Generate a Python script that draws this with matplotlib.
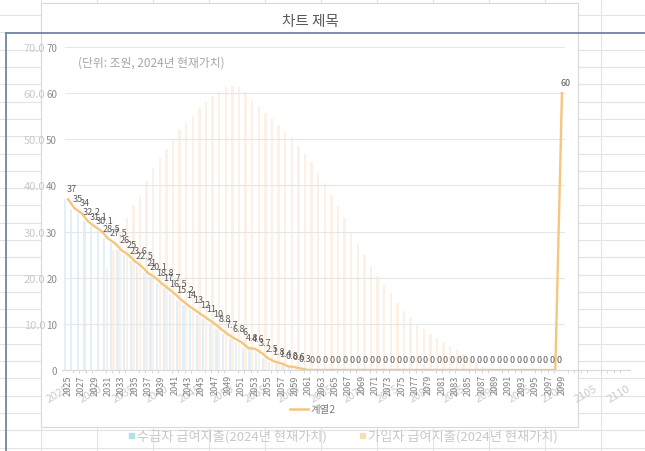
import numpy as np
import matplotlib
matplotlib.use("Agg")
import matplotlib.pyplot as plt
from matplotlib.patches import Rectangle

plt.rcParams['font.family'] = ['Noto Sans CJK KR', 'DejaVu Sans']

W, H = 645, 452

# --- data ---
years = list(range(2025, 2100))
series2 = [37, 35, 34, 32.2, 31.1, 30.1, 28.5, 27.5, 26, 25,
           23.6, 22.5, 21, 20.1, 18.8, 17.7, 16.5, 15.2, 14, 13,
           12, 11, 10, 8.8, 7.7, 6.8, 6, 4.8, 4.6, 3.7,
           2.5, 1.8, 1.4, 0.8, 0.6, 0.3] + [0] * 38 + [60]

rec_years = list(range(2025, 2061))
recipient = [37, 35, 34, 32.2, 31.1, 30.1, 28.5, 27.5, 26, 25,
             23.6, 22.5, 21, 20.1, 18.8, 17.7, 16.5, 15.2, 14, 13,
             12, 11, 10, 8.8, 7.7, 6.8, 6, 4.8, 4.6, 3.7,
             2.5, 1.8, 1.4, 0.8, 0.6, 0.3]

con_years = list(range(2031, 2089))
contributor = [22, 26, 29.5, 33, 35.5, 37.5, 41, 43.7, 46, 48,
               50, 52, 53.5, 55, 56.7, 58, 59.3, 60.5, 61.3, 61.5,
               61.3, 60.2, 58.5, 57.2, 55.8, 54.6, 53.2, 51.8, 50.4, 48.5,
               46.8, 45, 42.6, 40.5, 38, 35.5, 33, 30, 27.5, 25,
               22.5, 20.3, 18.4, 16.6, 14.6, 12.8, 11.2, 10, 8.9, 7.9,
               7, 6.1, 5.2, 4.4, 3.5, 2.6, 1.7, 0.9]

inner_xticks = list(range(2025, 2100, 2))
outer_xticks = list(range(2025, 2111, 5))
yticks = list(range(0, 71, 10))

title = '차트 제목'
subtitle = '(단위: 조원, 2024년 현재가치)'
leg_line = '계열2'
leg_rec = '수급자 급여지출(2024년 현재가치)'
leg_con = '가입자 급여지출(2024년 현재가치)'


def px_box(x0, y0, x1, y1):
    return [x0 / W, 1 - y1 / H, (x1 - x0) / W, (y1 - y0) / H]


fig = plt.figure(figsize=(W / 100, H / 100), dpi=100)

# spreadsheet background + back chart frame
ax_bg = fig.add_axes([0, 0, 1, 1])
ax_bg.set_xlim(0, W)
ax_bg.set_ylim(H, 0)
ax_bg.axis('off')
for y in np.arange(16.1, H, 17.3):
    ax_bg.plot([0, W], [y, y], color='#E3E3E3', lw=0.8)
for x in range(41, W, 56):
    ax_bg.plot([x, x], [0, H], color='#E3E3E3', lw=0.8)
ax_bg.add_patch(Rectangle((41, 4), 537, 424, facecolor='white',
                          edgecolor='#D9D9D9', lw=0.8, zorder=2))
ax_bg.text(310, 22, title, ha='center', va='center', fontsize=10.5,
           color='#595959', zorder=3)
ax_bg.text(78, 63, subtitle, ha='left', va='center', fontsize=8.5,
           color='#A6A6A6', zorder=3)
# selected chart border
ax_bg.plot([6, W], [33.5, 33.5], color='#7083AA', lw=1.3, zorder=5)
ax_bg.plot([6, 6], [33.5, H], color='#7083AA', lw=1.3, zorder=5)
# legends
ax_bg.plot([290, 308], [410, 410], color='#F4C47C', lw=1.8, zorder=3)
ax_bg.text(311, 410, leg_line, ha='left', va='center', fontsize=7.5,
           color='#7F7F7F', zorder=3)
ax_bg.add_patch(Rectangle((129, 434), 5, 5, color='#B4E0E9', zorder=3))
ax_bg.text(137, 437, leg_rec, ha='left', va='center', fontsize=9.5,
           color='#C8C8C8', zorder=3)
ax_bg.add_patch(Rectangle((360, 434), 5, 5, color='#F9DEB3', zorder=3))
ax_bg.text(368, 437, leg_con, ha='left', va='center', fontsize=9.5,
           color='#C8C8C8', zorder=3)

# front (transparent) bar chart
ax_out = fig.add_axes(px_box(62, 48, 630, 371))
ax_out.set_facecolor('none')
ax_out.bar(np.array(rec_years) - 0.2, recipient, width=0.36, color='#E3F0F9')
ax_out.bar(np.array(con_years) + 0.2, contributor, width=0.36, color='#FDF1E5')
ax_out.set_xlim(2024.39, 2110.45)
ax_out.set_ylim(0, 70)
for s in ['left', 'top', 'right']:
    ax_out.spines[s].set_visible(False)
ax_out.spines['bottom'].set_color('#D9D9D9')
ax_out.set_yticks(yticks[1:])
ax_out.set_yticklabels([f'{v:.1f}' for v in yticks[1:]], fontsize=8, color='#C8C8C8')
ax_out.tick_params(axis='y', length=0, pad=12)
ax_out.set_xticks(outer_xticks)
ax_out.set_xticklabels([str(v) for v in outer_xticks], rotation=30, ha='right',
                       rotation_mode='anchor', fontsize=8, color='#CCCCCC')
ax_out.set_xticks(years + [2100 + i for i in range(11)], minor=True)
ax_out.tick_params(axis='x', which='major', length=0, pad=9)
ax_out.tick_params(axis='x', which='minor', length=2, color='#CFCFCF')

# back line chart
ax_in = fig.add_axes(px_box(64.7, 48, 565.3, 371))
ax_in.set_facecolor('none')
ax_in.set_xlim(2024.5, 2099.5)
ax_in.set_ylim(0, 70)
for v in yticks[1:]:
    ax_in.axhline(v, color='#E6E6E6', lw=0.8, zorder=0)
ax_in.plot(years, series2, color='#F5C67E', lw=1.7, zorder=3)
for x, v in zip(years, series2):
    ax_in.annotate(f'{v:g}', (x, v), xytext=(2.5, 7.5), textcoords='offset points',
                   ha='center', va='center', fontsize=6.5, color='#595959', zorder=4)
for s in ['left', 'top', 'right']:
    ax_in.spines[s].set_visible(False)
ax_in.spines['bottom'].set_color('#D9D9D9')
ax_in.set_xticks(inner_xticks)
ax_in.set_xticklabels([str(v) for v in inner_xticks], rotation=90,
                      fontsize=6.5, color='#808080')
ax_in.set_yticks(yticks)
ax_in.set_yticklabels([str(v) for v in yticks], fontsize=7, color='#8C8C8C')
ax_in.tick_params(axis='x', length=0, pad=3)
ax_in.tick_params(axis='y', length=0, pad=5.5)

fig.savefig('out.png', dpi=100)
